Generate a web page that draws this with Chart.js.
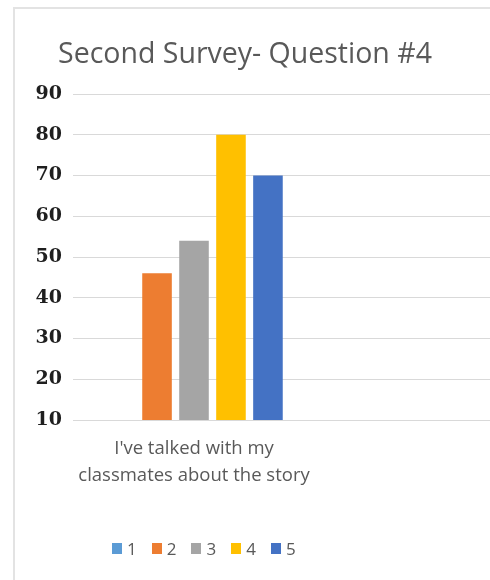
<!DOCTYPE html>
<html>
<head>
<meta charset="utf-8">
<script src="https://cdn.jsdelivr.net/npm/chart.js@4.4.1/dist/chart.umd.min.js"></script>
<style>
  html, body { margin: 0; padding: 0; background: #fff; width: 490px; height: 580px; overflow: hidden; }
  #frame { position: absolute; left: 13px; top: 7px; width: 600px; height: 600px;
           border-left: 2px solid #e3e3e3; border-top: 2px solid #e3e3e3; }
  #wrap { position: absolute; left: 15px; top: 9px; width: 560px; height: 571px; }
  #title { position: absolute; left: 0; width: 490px; top: 32px; line-height: 40px; text-align: center;
           font-family: "Open Sans", sans-serif; font-size: 28.5px; color: #595959; white-space: nowrap; }
  #legend { position: absolute; left: 112px; top: 539px; height: 18px; display: flex; align-items: center;
            font-family: "Open Sans", sans-serif; font-size: 17px; color: #595959; }
  #legend span.item { display: flex; align-items: center; margin-right: 15px; }
  #legend span.box { width: 10px; height: 11px; margin-right: 5px; display: inline-block; }
</style>
</head>
<body>
<div id="frame"></div>
<div id="wrap"><canvas id="chart"></canvas></div>
<div id="title">Second Survey- Question #4</div>
<div id="legend"></div>
<script>
// one question, the second slot is empty (chart was cropped on the right)
const categories = [["I've talked with my", "classmates about the story"], ""];
const seriesNames = ["1", "2", "3", "4", "5"];
const series1 = [0, null];
const series2 = [46, null];
const series3 = [54, null];
const series4 = [80, null];
const series5 = [70, null];
const seriesColors = ["#5B9BD5", "#ED7D31", "#A5A5A5", "#FFC000", "#4472C4"];
const yMin = 10;
const yMax = 90;
const yStep = 10;

const allSeries = [series1, series2, series3, series4, series5];

let datasets = allSeries.map((values, i) => ({
    label: seriesNames[i],
    data: values,
    backgroundColor: seriesColors[i],
    borderWidth: 0,
    categoryPercentage: 0.764,
    barPercentage: 0.8
}));

// legend in html so it can sit where excel put it
let legend = document.getElementById("legend");
seriesNames.forEach((name, i) => {
    let item = document.createElement("span");
    item.className = "item";
    item.innerHTML = `<span class="box" style="background:${seriesColors[i]}"></span>${name}`;
    legend.appendChild(item);
});

let ctx = document.getElementById("chart").getContext("2d");
new Chart(ctx, {
    type: "bar",
    data: {
        labels: categories,
        datasets: datasets
    },
    options: {
        responsive: true,
        maintainAspectRatio: false,
        animation: false,
        clip: 0,
        layout: { padding: { left: 0, top: 85, right: 18, bottom: 0 } },
        plugins: {
            legend: { display: false },
            title: { display: false },
            tooltip: { enabled: false }
        },
        scales: {
            x: {
                grid: { display: false },
                border: { display: true, color: "#d9d9d9", width: 1 },
                ticks: {
                    autoSkip: false,
                    maxRotation: 0,
                    minRotation: 0,
                    padding: 7,
                    color: "#595959",
                    font: { family: "Open Sans", size: 18.5, lineHeight: 1.46 }
                },
                afterFit: (scale) => { scale.height = 160; }
            },
            y: {
                min: yMin,
                max: yMax,
                grid: { color: "#d9d9d9", lineWidth: 1, drawTicks: false },
                border: { display: false },
                ticks: {
                    stepSize: yStep,
                    padding: 11,
                    color: "#1f1f1f",
                    font: { family: "DejaVu Serif", size: 19, weight: "bold" }
                },
                afterFit: (scale) => { scale.width = 58; }
            }
        }
    }
});
</script>
</body>
</html>
